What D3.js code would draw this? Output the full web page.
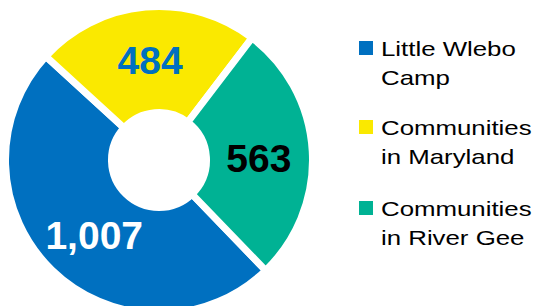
<!DOCTYPE html>
<meta charset="utf-8">
<head>
<script src="https://d3js.org/d3.v7.min.js"></script>
<style>
  body { margin: 0; background: #fff; }
  text { font-family: "Liberation Sans", Arial, sans-serif; }
</style>
</head>
<body>
<div id="chart"></div>
<script>
  // data
  var categories = ["Little Wlebo Camp", "Communities in Maryland", "Communities in River Gee"];
  var legendLines = [["Little Wlebo", "Camp"], ["Communities", "in Maryland"], ["Communities", "in River Gee"]];
  var values = [1007, 484, 563];
  var colors = ["#0070C0", "#FAE900", "#00B294"];
  var labelColors = ["#ffffff", "#0070C0", "#000000"];

  var width = 536, height = 306;
  var cx = 159, cy = 160;

  var svg = d3.select("#chart")
    .append("svg")
      .attr("width", width)
      .attr("height", height);

  var g = svg.append("g")
    .attr("transform", "translate(" + cx + "," + cy + ")");

  // blue slice starts in the lower right, like the original
  var start = 136 * Math.PI / 180;
  var pie = d3.pie()
    .sort(null)
    .startAngle(start)
    .endAngle(start + 2 * Math.PI)
    .value(function(d){ return d; });

  var arcs = pie(values);

  var arc = d3.arc()
    .innerRadius(47.5)
    .outerRadius(153.5);

  var labelArc = d3.arc()
    .innerRadius(50)
    .outerRadius(150);

  g.selectAll("path")
    .data(arcs)
    .enter()
    .append("path")
      .attr("d", arc)
      .attr("fill", function(d, i){ return colors[i]; })
      .attr("stroke", "#fff")
      .attr("stroke-width", 7)
      .attr("stroke-linejoin", "miter");

  var fmt = d3.format(",");
  g.selectAll("text.val")
    .data(arcs)
    .enter()
    .append("text")
      .attr("class", "val")
      .attr("transform", function(d){
        var c = labelArc.centroid(d);
        return "translate(" + (c[0] + (d.index == 0 ? 5 : 0)) + "," + (c[1] + (d.index == 2 ? 4 : (d.index == 0 ? 3 : 0))) + ")";
      })
      .attr("text-anchor", "middle")
      .attr("dy", "0.36em")
      .attr("font-size", "39px")
      .attr("font-weight", "bold")
      .attr("fill", function(d, i){ return labelColors[i]; })
      .text(function(d){ return fmt(d.data); });

  // legend
  var legendY = [56, 135, 216];
  var legend = svg.selectAll("g.leg")
    .data(categories)
    .enter()
    .append("g")
      .attr("class", "leg")
      .attr("transform", function(d, i){ return "translate(359," + legendY[i] + ")"; });

  legend.append("rect")
    .attr("x", 0)
    .attr("y", -15)
    .attr("width", 14)
    .attr("height", 14)
    .attr("fill", function(d, i){ return colors[i]; });

  legend.each(function(d, i){
    var t = d3.select(this).append("g")
      .attr("transform", "translate(22,0) scale(1.23,1)");
    legendLines[i].forEach(function(line, j){
      t.append("text")
        .attr("x", 0)
        .attr("y", j * 29)
        .attr("font-size", "21px")
        .attr("fill", "#000")
        .text(line);
    });
  });
</script>
</body>
